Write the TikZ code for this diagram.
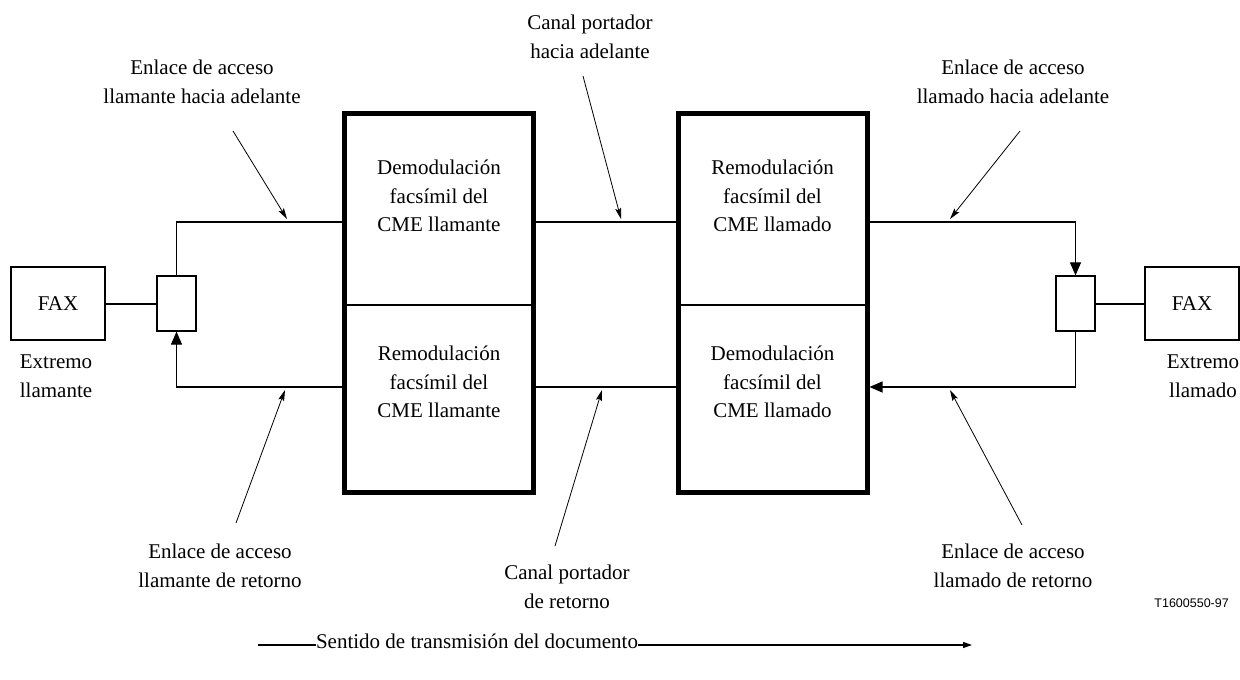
\documentclass[tikz,border=0pt]{standalone}
\usepackage{fontspec}
\setmainfont{Liberation Serif}
\newfontfamily\codefont{Liberation Sans}
\usetikzlibrary{arrows.meta}
\begin{document}
\begin{tikzpicture}[x=1pt,y=-1pt,
  txt/.style={font=\fontsize{21}{28.5}\selectfont, inner sep=0pt, align=center},
  faxbox/.style={draw, line width=1.2pt, minimum width=94pt, minimum height=73pt, inner sep=0pt, font=\fontsize{21}{28.5}\selectfont},
  smallbox/.style={draw, line width=1.2pt, minimum width=39pt, minimum height=55pt, inner sep=0pt},
  bigbox/.style={draw, line width=5pt, minimum width=189pt, minimum height=379pt, inner sep=0pt},
  sig/.style={line width=1.1pt},
  sigarrow/.style={line width=1.1pt, -{Triangle[length=13pt,width=11pt]}},
  lbl/.style={line width=0.8pt, -{Stealth[length=11pt,width=6pt,inset=2pt]}},
  thickline/.style={line width=2pt}
]
\useasboundingbox (0,0) rectangle (1240,680);
\fill[white] (0,0) rectangle (1240,680);

% end equipment
\node[faxbox] (faxL) at (58,303.5) {FAX};
\node[faxbox] (faxR) at (1192,303.5) {FAX};
\node[smallbox] (sbL) at (176.5,303.5) {};
\node[smallbox] (sbR) at (1075.5,303.5) {};
\node[txt, anchor=north] (extL) at (56,355) {Extremo\\llamante};
\node[txt, anchor=north] (extR) at (1203,355) {Extremo\\llamado};

% big boxes
\node[bigbox] (b1) at (439,302.5) {};
\node[bigbox] (b2) at (772.5,302.5) {};
\coordinate (div) at (0,305);
\draw[line width=2.5pt] (b1.west |- div) -- (b1.east |- div);
\draw[line width=2.5pt] (b2.west |- div) -- (b2.east |- div);
\node[txt] (t1u) at (439,196) {Demodulación\\facsímil del\\CME llamante};
\node[txt] (t1l) at (439,382) {Remodulación\\facsímil del\\CME llamante};
\node[txt] (t2u) at (772.5,196) {Remodulación\\facsímil del\\CME llamado};
\node[txt] (t2l) at (772.5,382) {Demodulación\\facsímil del\\CME llamado};

% signal paths
\coordinate (fwd) at (0,222);
\coordinate (ret) at (0,387);
\draw[thickline] (faxL.east) -- (sbL.west);
\draw[thickline] (sbR.east) -- (faxR.west);
\draw[sig] (sbL.north) |- (b1.west |- fwd);
\draw[sigarrow] (b1.west |- ret) -| (sbL.south);
\draw[sig] (b1.east |- fwd) -- (b2.west |- fwd);
\draw[sig] (b2.west |- ret) -- (b1.east |- ret);
\draw[sigarrow] (b2.east |- fwd) -| (sbR.north);
\draw[sigarrow] (sbR.south) |- (b2.east |- ret);

% labels
\node[txt] (l1) at (202,82) {Enlace de acceso\\llamante hacia adelante};
\node[txt] (l2) at (590,37) {Canal portador\\hacia adelante};
\node[txt] (l3) at (1013,82) {Enlace de acceso\\llamado hacia adelante};
\node[txt] (l4) at (220,566) {Enlace de acceso\\llamante de retorno};
\node[txt] (l5) at (567,587) {Canal portador\\de retorno};
\node[txt] (l6) at (1013,566) {Enlace de acceso\\llamado de retorno};

\coordinate (a1s) at (233,131); \coordinate (a1e) at (287,219);
\coordinate (a2s) at (583,76);  \coordinate (a2e) at (621,219);
\coordinate (a3s) at (1020,131); \coordinate (a3e) at (950,219);
\coordinate (a4s) at (236,523); \coordinate (a4e) at (285,390);
\coordinate (a5s) at (555,546); \coordinate (a5e) at (602,390);
\coordinate (a6s) at (1022,525); \coordinate (a6e) at (950,390);
\draw[lbl] (a1s) -- (a1e);
\draw[lbl] (a2s) -- (a2e);
\draw[lbl] (a3s) -- (a3e);
\draw[lbl] (a4s) -- (a4e);
\draw[lbl] (a5s) -- (a5e);
\draw[lbl] (a6s) -- (a6e);

% figure code
\node[inner sep=0pt, anchor=east, font=\codefont\fontsize{12.5}{14}\selectfont] (code) at (1229,603) {T1600550-97};

% direction of transmission
\node[txt] (dir) at (477,641) {Sentido de transmisión del documento};
\coordinate (d1) at (258,645);
\coordinate (d2) at (972,645);
\draw[line width=1.2pt] (d1) -- (d1 -| dir.west);
\draw[line width=1.2pt, -{Triangle[length=9pt,width=6pt]}] (d1 -| dir.east) -- (d2);
\end{tikzpicture}
\end{document}
